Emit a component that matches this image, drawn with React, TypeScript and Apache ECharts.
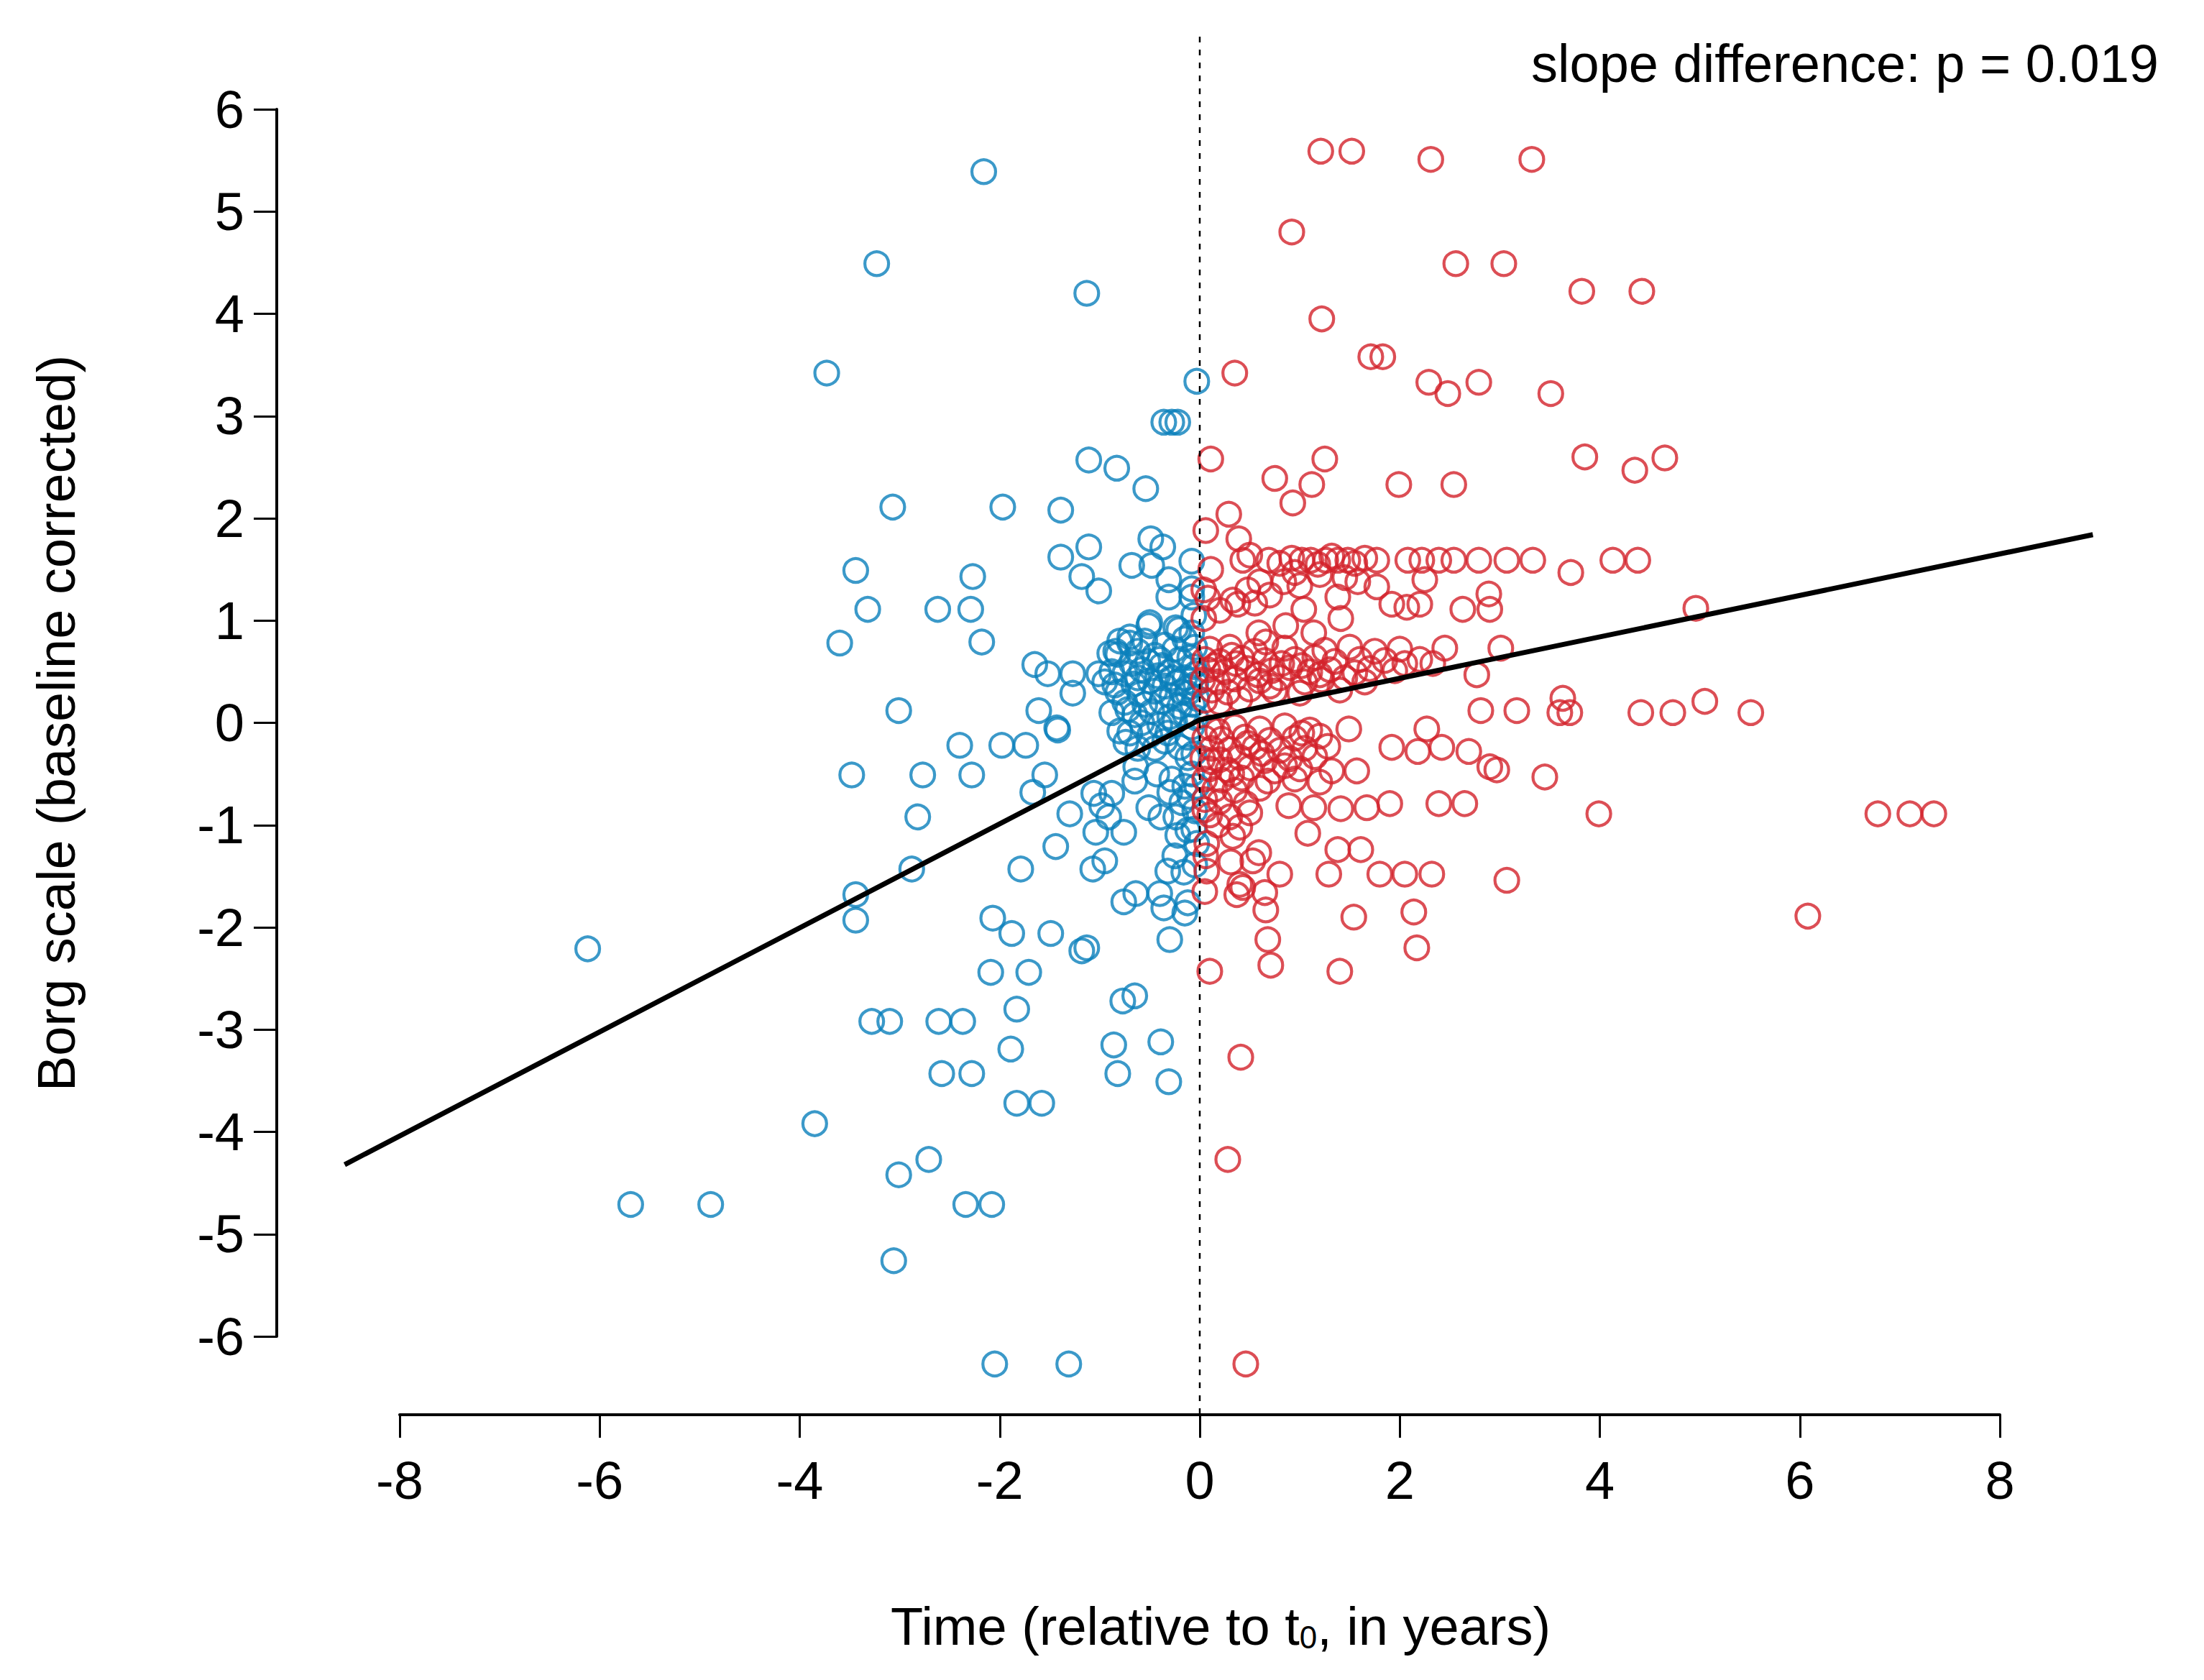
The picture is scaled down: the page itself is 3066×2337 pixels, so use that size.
import React, { useEffect, useRef } from "react";
import * as echarts from "echarts";

// ---------- data (years relative to t0, Borg scale baseline corrected) ----------
const xTicks = [-8, -6, -4, -2, 0, 2, 4, 6, 8];
const yTicks = [-6, -5, -4, -3, -2, -1, 0, 1, 2, 3, 4, 5, 6];

const preOnsetSparseUpper: [number, number][] = [
  [-2.16, 5.39], [-3.23, 4.49], [-1.13, 4.2], [-3.73, 3.42], [-0.03, 3.34],
  [-0.36, 2.94], [-0.28, 2.94], [-0.22, 2.94], [-1.11, 2.57], [-0.83, 2.49], [-0.54, 2.29],
  [-3.07, 2.11], [-1.97, 2.11], [-1.39, 2.08], [-1.11, 1.72], [-1.39, 1.62], [-0.49, 1.8], [-0.37, 1.72],
  [-1.18, 1.43], [-1.01, 1.29], [-0.68, 1.54], [-0.48, 1.54], [-0.31, 1.4], [-0.31, 1.23], [-0.08, 1.58],
  [-0.08, 1.31], [-0.08, 1.23], [-3.44, 1.49], [-2.27, 1.43], [-3.32, 1.11], [-2.62, 1.11], [-2.29, 1.11],
  [-3.6, 0.78], [-2.18, 0.79], [-3.01, 0.12], [-1.65, 0.57], [-1.52, 0.48], [-1.27, 0.48], [-1.27, 0.29],
  [-1.01, 0.48], [-1.61, 0.12], [-1.43, -0.05], [-0.8, 0.8], [-0.51, 0.95], [-0.21, 0.91], [-0.84, 0.7],
  [-0.5, 0.98], [-0.24, 0.93], [-0.7, 0.84], [-0.82, 0.67], [-0.85, 0.37], [-0.72, 0.13], [-0.06, 1.05],
];

const preOnsetCore: [number, number][] = [
  [-0.7, 0.78], [-0.55, 0.8], [-0.35, 0.76], [-0.15, 0.82], [-0.05, 0.74],
  [-0.9, 0.68], [-0.62, 0.7], [-0.45, 0.66], [-0.25, 0.72], [-0.1, 0.64],
  [-0.68, 0.58], [-0.52, 0.6], [-0.38, 0.56], [-0.2, 0.62], [-0.06, 0.55],
  [-0.88, 0.5], [-0.75, 0.48], [-0.58, 0.52], [-0.42, 0.46], [-0.3, 0.5], [-0.15, 0.44], [-0.04, 0.48],
  [-0.95, 0.4], [-0.66, 0.38], [-0.5, 0.41], [-0.35, 0.36], [-0.22, 0.4], [-0.1, 0.35],
  [-0.82, 0.3], [-0.6, 0.28], [-0.45, 0.31], [-0.28, 0.26], [-0.12, 0.29], [-0.03, 0.24],
  [-0.75, 0.2], [-0.55, 0.18], [-0.38, 0.21], [-0.2, 0.16], [-0.07, 0.18],
  [-0.88, 0.1], [-0.65, 0.08], [-0.48, 0.11], [-0.3, 0.06], [-0.15, 0.09], [-0.04, 0.05],
  [-0.58, 0.0], [-0.4, -0.02], [-0.25, 0.01], [-0.08, -0.04],
  [-0.8, -0.08], [-0.5, -0.12], [-0.32, -0.1], [-0.12, -0.14],
  [-0.7, -0.1], [-0.74, -0.19], [-0.64, -0.43], [-0.43, -0.5], [-0.28, -0.55], [-0.12, -0.34],
  [-0.45, -0.25], [-0.35, -0.18], [-0.2, -0.24], [-0.06, -0.3], [-0.62, -0.25], [-0.08, -0.5],
  [-0.15, -0.62], [-0.3, -0.68], [-0.1, -0.72], [-0.05, -0.86], [-0.18, -0.78], [-0.24, -0.92],
  [-0.12, -1.05], [-0.03, -1.18], [-0.22, -1.1], [-0.06, -1.04], [-0.25, -1.3], [-0.05, -1.39], [-0.32, -1.45],
  [-0.4, 0.62], [-0.28, 0.44], [-0.18, 0.3], [-0.62, 0.44], [-0.08, 0.88], [-0.04, 0.38], [-0.03, -0.62],
];

const preOnsetSparseLower: [number, number][] = [
  [-2.4, -0.22], [-1.98, -0.22], [-1.74, -0.22], [-1.42, -0.07], [-3.48, -0.51], [-2.77, -0.51],
  [-2.28, -0.51], [-1.55, -0.51], [-1.67, -0.68], [-1.3, -0.89], [-1.04, -1.07], [-0.76, -1.07],
  [-0.65, -0.57], [-0.51, -0.83], [-0.39, -0.92], [-0.98, -0.81], [-0.91, -0.92], [-1.06, -0.69],
  [-0.88, -0.69], [-2.82, -0.92], [-1.44, -1.21], [-2.88, -1.43], [-1.79, -1.43], [-1.07, -1.43],
  [-0.95, -1.35], [-3.44, -1.68], [-3.44, -1.93], [-0.64, -1.67], [-0.76, -1.75], [-0.4, -1.67],
  [-0.36, -1.81], [-0.15, -1.86], [-0.12, -1.76], [-0.16, -1.46], [-0.3, -2.12], [-2.07, -1.91],
  [-1.88, -2.06], [-1.49, -2.06], [-1.18, -2.23], [-1.13, -2.2], [-2.09, -2.44], [-1.71, -2.44],
  [-0.77, -2.72], [-0.65, -2.67], [-1.83, -2.8], [-3.28, -2.92], [-3.1, -2.92], [-2.61, -2.92],
  [-2.37, -2.92], [-1.89, -3.19], [-0.86, -3.15], [-0.39, -3.12], [-2.58, -3.43], [-2.28, -3.43],
  [-0.82, -3.43], [-0.31, -3.51], [-1.83, -3.72], [-1.58, -3.72], [-3.85, -3.92], [-2.71, -4.27],
  [-3.01, -4.42], [-6.12, -2.21], [-5.69, -4.71], [-4.89, -4.71], [-2.34, -4.71], [-2.08, -4.71],
  [-3.06, -5.26], [-2.05, -6.27], [-1.31, -6.27],
];

const postOnsetSparseUpper: [number, number][] = [
  [1.21, 5.59], [1.52, 5.59], [2.31, 5.51], [3.32, 5.51], [0.92, 4.8], [2.56, 4.49], [3.04, 4.49],
  [3.82, 4.22], [4.42, 4.22], [1.22, 3.95], [1.71, 3.58], [1.83, 3.58], [0.35, 3.42], [2.29, 3.33],
  [2.48, 3.22], [2.79, 3.33], [3.51, 3.22], [0.11, 2.58], [1.25, 2.58], [3.85, 2.6], [4.35, 2.47],
  [4.65, 2.59], [0.75, 2.39], [1.12, 2.33], [0.93, 2.15], [1.99, 2.33], [2.54, 2.33], [0.29, 2.04],
  [0.06, 1.88], [0.39, 1.8], [0.11, 1.5],
  [0.43, 1.59], [0.69, 1.59], [1.02, 1.59], [1.11, 1.59], [1.26, 1.59], [1.38, 1.59], [1.48, 1.59],
  [1.77, 1.59], [2.08, 1.59], [2.22, 1.59], [2.39, 1.59], [2.54, 1.59], [2.79, 1.59], [3.07, 1.59],
  [3.33, 1.59], [4.13, 1.59], [4.38, 1.59], [3.71, 1.47],
  [0.5, 1.64], [0.8, 1.56], [0.92, 1.61], [1.18, 1.55], [1.32, 1.63], [1.55, 1.56], [1.65, 1.61],
  [0.95, 1.47], [1.2, 1.45], [1.45, 1.42], [1.0, 1.34], [0.6, 1.38], [0.84, 1.38], [1.58, 1.38],
  [1.77, 1.33], [2.25, 1.4], [2.89, 1.26], [2.9, 1.11], [2.63, 1.11], [1.38, 1.23], [1.41, 1.02],
  [1.04, 1.11], [1.92, 1.16], [2.07, 1.13], [2.2, 1.16], [0.38, 1.16], [0.33, 1.2], [0.04, 1.02],
  [0.08, 1.22], [0.86, 0.95], [0.66, 0.79], [1.14, 0.88], [2.45, 0.73], [3.01, 0.73], [2.77, 0.47],
  [4.96, 1.12], [0.55, 1.17], [0.59, 0.88], [0.2, 1.1], [0.48, 1.3], [0.7, 1.25], [0.04, 1.3],
  [2.05, 0.58], [2.2, 0.62], [2.33, 0.58],
];

const postOnsetCore: [number, number][] = [
  [0.1, 0.72], [0.3, 0.74], [0.55, 0.7], [0.85, 0.73], [1.25, 0.71], [1.5, 0.74], [1.75, 0.7], [2.0, 0.72],
  [0.05, 0.62], [0.2, 0.6], [0.42, 0.63], [0.65, 0.61], [0.95, 0.62], [1.15, 0.64], [1.35, 0.6], [1.6, 0.62], [1.85, 0.61],
  [0.08, 0.52], [0.25, 0.5], [0.48, 0.53], [0.72, 0.51], [0.9, 0.54], [1.1, 0.5], [1.3, 0.52], [1.55, 0.49], [1.7, 0.53], [1.95, 0.51],
  [0.03, 0.42], [0.18, 0.4], [0.35, 0.43], [0.6, 0.41], [0.8, 0.44], [1.05, 0.4], [1.22, 0.42], [1.45, 0.44], [1.65, 0.4],
  [0.12, 0.32], [0.28, 0.3], [0.5, 0.33], [0.75, 0.31], [1.0, 0.29], [1.4, 0.32],
  [0.05, 0.22], [0.2, 0.2], [0.4, 0.23],
  [0.15, 0.56], [0.36, 0.58], [0.58, 0.47], [0.82, 0.58], [1.02, 0.56], [1.2, 0.47], [0.32, 0.66], [0.7, 0.36],
  [0.1, -0.05], [0.35, -0.04], [0.6, -0.06], [0.85, -0.03], [1.1, -0.07],
  [0.05, -0.15], [0.22, -0.16], [0.45, -0.14], [0.7, -0.17], [0.95, -0.15], [1.2, -0.13],
  [0.12, -0.25], [0.3, -0.26], [0.55, -0.24], [0.8, -0.27], [1.05, -0.25], [1.28, -0.23],
  [0.03, -0.35], [0.2, -0.36], [0.4, -0.34], [0.65, -0.37], [0.9, -0.35], [1.15, -0.33],
  [0.1, -0.45], [0.28, -0.46], [0.5, -0.44], [0.75, -0.47], [1.0, -0.45],
  [0.05, -0.55], [0.22, -0.56], [0.42, -0.54], [0.68, -0.57], [0.95, -0.55], [1.2, -0.58],
  [0.15, -0.65], [0.35, -0.66], [0.6, -0.64], [0.05, -0.75], [0.2, -0.77],
  [0.1, -0.9], [0.3, -0.92], [0.5, -0.88], [0.18, -1.0], [0.4, -1.02],
  [0.18, -0.08], [0.48, -0.2], [0.62, -0.3], [0.85, -0.42], [0.32, -0.5], [0.12, -0.38], [1.02, -0.1],
];

const postOnsetSparseLower: [number, number][] = [
  [2.81, 0.12], [3.17, 0.12], [3.63, 0.24], [3.6, 0.1], [3.7, 0.1], [4.41, 0.1], [4.73, 0.1],
  [5.05, 0.21], [5.51, 0.1],
  [1.49, -0.06], [2.27, -0.06], [1.92, -0.24], [2.18, -0.28], [2.42, -0.24], [2.69, -0.28],
  [2.9, -0.43], [2.97, -0.46], [3.45, -0.53], [3.99, -0.89], [1.57, -0.47], [1.32, -0.47],
  [0.89, -0.81], [1.14, -0.83], [1.41, -0.84], [1.67, -0.83], [1.9, -0.79], [2.39, -0.79],
  [2.65, -0.79], [0.46, -0.79], [1.08, -1.08], [1.38, -1.24], [1.61, -1.24], [1.29, -1.48],
  [1.8, -1.48], [2.05, -1.48], [2.32, -1.48], [3.07, -1.54], [0.8, -1.48], [0.59, -1.27],
  [0.31, -1.36], [0.33, -1.11], [0.07, -1.18], [0.07, -1.45], [0.4, -1.58], [0.37, -1.68],
  [0.65, -1.66], [0.66, -1.83], [1.54, -1.9], [2.14, -1.85], [0.68, -2.12], [2.17, -2.2],
  [0.71, -2.37], [1.4, -2.43], [0.1, -2.43], [0.41, -3.27], [0.28, -4.27], [0.46, -6.27],
  [6.78, -0.89], [7.1, -0.89], [7.34, -0.89], [6.08, -1.89], [0.53, -1.35], [0.43, -1.61],
  [0.05, -0.85], [0.06, -1.3], [0.05, -1.65],
];

// piecewise linear fit (break at t0)
const fitLine: [number, number][] = [[-8.55, -4.32], [0, 0.03], [8.93, 1.84]];
// vertical dashed reference at t0
const onsetLine: [number, number][] = [[0, 6.71], [0, -6.77]];

const annotation = "slope difference: p = 0.019";
const xTitle = "Time (relative to t{sub|0}, in years)";
const yTitle = "Borg scale (baseline corrected)";

const BLUE = "#0a80bc";
const RED = "#d3222a";
const FONT = '"Liberation Sans", Arial, Helvetica, sans-serif';

export default function App() {
  const ref = useRef<HTMLDivElement>(null);

  useEffect(() => {
    if (!ref.current) return;
    const chart = echarts.init(ref.current, null, { renderer: "svg" });

    const scatterStyle = (color: string) => ({
      color: "rgba(0,0,0,0)",
      borderColor: color,
      borderWidth: 4.2,
    });

    chart.setOption({
      animation: false,
      backgroundColor: "#ffffff",
      textStyle: { fontFamily: FONT },
      grid: {
        left: 556,
        top: 152,
        width: 2226,
        height: 1707,
        containLabel: false,
        outerBoundsMode: "none",
      },
      xAxis: {
        type: "value",
        min: xTicks[0],
        max: xTicks[xTicks.length - 1],
        interval: 2,
        position: "bottom",
        offset: 109,
        axisLine: { show: true, onZero: false, lineStyle: { color: "#000", width: 4 } },
        axisTick: { show: true, length: 32, lineStyle: { color: "#000", width: 3 } },
        axisLabel: { fontSize: 74, color: "#000", margin: 54, fontFamily: FONT },
        splitLine: { show: false },
      },
      yAxis: {
        type: "value",
        min: yTicks[0],
        max: yTicks[yTicks.length - 1],
        interval: 1,
        position: "left",
        offset: 171,
        axisLine: { show: true, onZero: false, lineStyle: { color: "#000", width: 4 } },
        axisTick: { show: true, length: 32, lineStyle: { color: "#000", width: 3 } },
        axisLabel: { fontSize: 74, color: "#000", margin: 45, fontFamily: FONT },
        splitLine: { show: false },
      },
      series: [
        {
          type: "scatter",
          data: [...preOnsetSparseUpper, ...preOnsetCore, ...preOnsetSparseLower],
          symbol: "circle",
          symbolSize: 33,
          clip: false,
          itemStyle: scatterStyle(BLUE),
          z: 2,
        },
        {
          type: "scatter",
          data: [...postOnsetSparseUpper, ...postOnsetCore, ...postOnsetSparseLower],
          symbol: "circle",
          symbolSize: 33,
          clip: false,
          itemStyle: scatterStyle(RED),
          z: 2,
        },
        {
          type: "line",
          data: onsetLine,
          symbol: "none",
          clip: false,
          lineStyle: { color: "#000", width: 2.5, type: [8, 10] },
          z: 4,
        },
        {
          // fitted piecewise regression, drawn through the axes' own scales
          type: "custom",
          data: fitLine,
          clip: false,
          z: 5,
          renderItem: (params: any, api: any) => {
            if (params.dataIndex !== 0) return null;
            const pts = fitLine.map((p) => api.coord(p));
            return {
              type: "polyline",
              shape: { points: pts },
              style: { stroke: "#000", lineWidth: 7, fill: null, lineJoin: "miter", lineCap: "butt" },
            };
          },
        },
      ],
      graphic: [
        {
          type: "text",
          x: 3003,
          y: 88,
          style: {
            text: annotation,
            fontSize: 74,
            fontFamily: FONT,
            fill: "#000",
            align: "right",
            verticalAlign: "middle",
          },
        },
        {
          type: "text",
          x: 1698,
          y: 2262,
          style: {
            text: xTitle,
            fontSize: 74,
            fontFamily: FONT,
            fill: "#000",
            align: "center",
            verticalAlign: "middle",
            rich: {
              sub: {
                fontSize: 44,
                fontFamily: FONT,
                fill: "#000",
                verticalAlign: "bottom",
                lineHeight: 33,
              },
            },
          },
        },
        {
          type: "text",
          x: 78,
          y: 1006,
          rotation: Math.PI / 2,
          style: {
            text: yTitle,
            fontSize: 74,
            fontFamily: FONT,
            fill: "#000",
            align: "center",
            verticalAlign: "middle",
          },
        },
      ],
    });

    return () => chart.dispose();
  }, []);

  return (
    <div
      ref={ref}
      style={{ position: "absolute", left: 0, top: 0, width: 3066, height: 2337, background: "#fff" }}
    />
  );
}
